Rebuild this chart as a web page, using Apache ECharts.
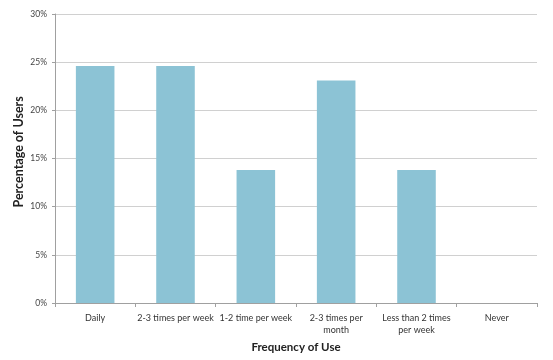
<!DOCTYPE html>
<html><head><meta charset="utf-8">
<script src="https://cdn.jsdelivr.net/npm/echarts@6/dist/echarts.min.js"></script>
<style>html,body{margin:0;padding:0;background:#fff}#c{width:553px;height:360px}</style>
</head><body><div id="c"></div>
<script>
var categories = ['Daily', '2-3 times per week', '1-2 time per week', '2-3 times per\nmonth', 'Less than 2 times\nper week', 'Never'];
var percentages = [24.6, 24.6, 13.8, 23.1, 13.8, 0];
var yTicks = [0, 5, 10, 15, 20, 25, 30];
var chart = echarts.init(document.getElementById('c'));
var font = 'Lato, "Open Sans", sans-serif';
chart.setOption({
  animation: false,
  backgroundColor: '#fff',
  grid: {left: 55, right: 16, top: 14, bottom: 57, containLabel: false, outerBoundsMode: 'none'},
  xAxis: {
    type: 'category', data: categories, boundaryGap: true,
    name: 'Frequency of Use', nameLocation: 'middle', nameGap: 37,
    nameTextStyle: {fontFamily: font, fontWeight: 'bold', fontSize: 11.5, color: '#222'},
    axisLine: {lineStyle: {color: '#a0a0a0'}},
    axisTick: {show: true, length: 4, lineStyle: {color: '#a0a0a0'}},
    axisLabel: {fontFamily: font, fontSize: 9, color: '#333', margin: 9, lineHeight: 12, interval: 0}
  },
  yAxis: {
    type: 'value', min: yTicks[0], max: yTicks[yTicks.length - 1], interval: 5,
    name: 'Percentage of Users', nameLocation: 'middle', nameGap: 30, nameMoveOverlap: false,
    nameTextStyle: {fontFamily: font, fontWeight: 'bold', fontSize: 12.5, color: '#222', align: 'left', padding: [0, 0, 0, -49]},
    axisLine: {show: true, lineStyle: {color: '#a0a0a0'}},
    axisTick: {show: true, length: 3, lineStyle: {color: '#a0a0a0'}},
    axisLabel: {fontFamily: font, fontSize: 8.5, color: '#444', margin: 8, formatter: '{value}%'},
    splitLine: {lineStyle: {color: '#d0d0d0', width: 1}}
  },
  series: [{
    type: 'bar', data: percentages, barWidth: '48%',
    itemStyle: {color: '#8cc3d5'}
  }]
});
</script></body></html>
